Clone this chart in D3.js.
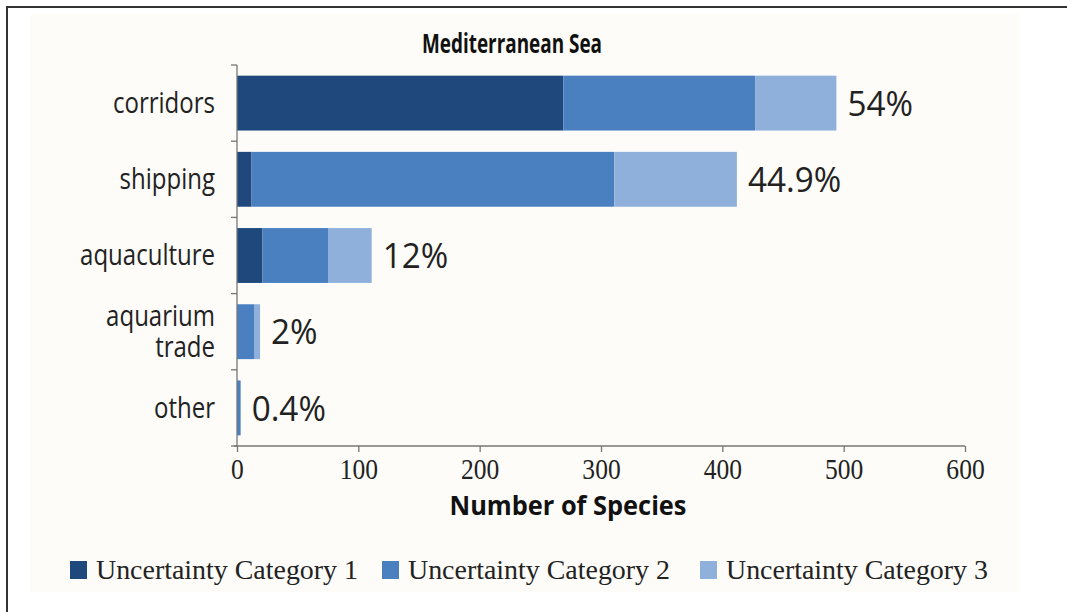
<!DOCTYPE html>
<html>
<head>
<meta charset="utf-8">
<script src="https://cdn.jsdelivr.net/npm/d3@7"></script>
<style>
  body { margin: 0; background: #fff; }
</style>
</head>
<body>
<div id="chart"></div>
<script>
// Data (number of species)
var categories = ["corridors", "shipping", "aquaculture", "aquarium trade", "other"];
var cat1 = [269, 12, 21, 0, 0];
var cat2 = [158, 299, 54, 14, 3];
var cat3 = [67, 101, 36, 5, 0];
var shareLabels = ["54%", "44.9%", "12%", "2%", "0.4%"];
var seriesNames = ["Uncertainty Category 1", "Uncertainty Category 2", "Uncertainty Category 3"];
var xTicks = [0, 100, 200, 300, 400, 500, 600];

var colors = ["#1f487c", "#4a7fc0", "#8eb0da"];

var W = 1067, H = 612;
var margin = {top: 65, right: 102, bottom: 166, left: 237};
var width = W - margin.left - margin.right,
    height = H - margin.top - margin.bottom;

// squeeze text horizontally (the original uses a condensed face)
function squeeze(sel, f) {
  sel.each(function() {
    var len = this.getComputedTextLength();
    d3.select(this).attr("textLength", len * f).attr("lengthAdjust", "spacingAndGlyphs");
  });
}

var svg = d3.select("#chart").append("svg")
    .attr("width", W)
    .attr("height", H);

// frame and paper background
svg.append("rect")
    .attr("x", 30).attr("y", 14)
    .attr("width", 990).attr("height", 578)
    .attr("fill", "#fdfcf8");
svg.append("path")
    .attr("d", "M7," + H + " V7 H" + W)
    .attr("fill", "none")
    .attr("stroke", "#333")
    .attr("stroke-width", 2);

var g = svg.append("g")
    .attr("transform", "translate(" + margin.left + "," + margin.top + ")");

var rows = categories.map(function(c, i) {
  return {cat: c, v1: cat1[i], v2: cat2[i], v3: cat3[i], label: shareLabels[i]};
});

var series = d3.stack().keys(["v1", "v2", "v3"])(rows);

var x = d3.scaleLinear().domain([0, 600]).range([0, width]);
var y = d3.scaleBand().domain(categories).range([0, height]).paddingInner(0.28).paddingOuter(0.14);

// bars
g.selectAll("g.series")
  .data(series)
  .enter().append("g")
    .attr("class", "series")
    .attr("fill", function(d, i) { return colors[i]; })
  .selectAll("rect")
  .data(function(d) { return d; })
  .enter().append("rect")
    .attr("x", function(d) { return x(d[0]); })
    .attr("y", function(d) { return y(d.data.cat); })
    .attr("width", function(d) { return x(d[1]) - x(d[0]); })
    .attr("height", y.bandwidth());

// percentage labels
g.selectAll("text.share")
  .data(rows)
  .enter().append("text")
    .attr("class", "share")
    .attr("x", function(d) { return x(d.v1 + d.v2 + d.v3) + 11; })
    .attr("y", function(d) { return y(d.cat) + y.bandwidth() / 2; })
    .attr("dy", "0.36em")
    .style("font-family", "'Open Sans', sans-serif")
    .style("font-size", "35px")
    .style("fill", "#222")
    .text(function(d) { return d.label; })
    .call(squeeze, 0.95);

// y axis: line with ticks at band boundaries
var step = y.step();
g.append("line")
    .attr("x1", 0).attr("x2", 0)
    .attr("y1", 0).attr("y2", height)
    .attr("stroke", "#777").attr("stroke-width", 1.3);
g.selectAll("line.ytick")
  .data(d3.range(categories.length + 1))
  .enter().append("line")
    .attr("class", "ytick")
    .attr("x1", -6).attr("x2", 0)
    .attr("y1", function(i) { return i * step; })
    .attr("y2", function(i) { return i * step; })
    .attr("stroke", "#777").attr("stroke-width", 1.3);

// category labels
var catText = g.selectAll("text.cat")
  .data(categories)
  .enter().append("text")
    .attr("class", "cat")
    .attr("text-anchor", "end")
    .attr("y", function(d) { return y(d) + y.bandwidth() / 2; })
    .style("font-family", "'Open Sans', sans-serif")
    .style("font-size", "30px")
    .style("fill", "#222");
catText.each(function(d) {
  var words = d.split(" ");
  var t = d3.select(this);
  words.forEach(function(w, k) {
    t.append("tspan")
      .attr("x", -22)
      .attr("dy", k === 0 ? (0.32 - (words.length - 1) * 0.52) + "em" : "1.05em")
      .text(w);
  });
});
catText.selectAll("tspan").call(squeeze, 0.8);

// x axis
var xAxis = d3.axisBottom(x).tickValues(xTicks).tickSize(6).tickSizeOuter(0).tickPadding(6);
var gx = g.append("g")
    .attr("transform", "translate(0," + height + ")")
    .call(xAxis);
gx.select(".domain").attr("stroke", "#777").attr("stroke-width", 1.3)
    .attr("d", "M-3,0H" + width);
gx.selectAll(".tick line").attr("stroke", "#777").attr("stroke-width", 1.3);
gx.selectAll(".tick text")
    .style("font-family", "'Liberation Serif', serif")
    .style("font-size", "29px")
    .style("fill", "#222")
    .call(squeeze, 0.88);

// axis title
g.append("text")
    .attr("x", 331)
    .attr("y", height + 69)
    .attr("text-anchor", "middle")
    .attr("textLength", 237)
    .attr("lengthAdjust", "spacingAndGlyphs")
    .style("font-family", "'Open Sans', sans-serif")
    .style("font-weight", "bold")
    .style("font-size", "27px")
    .style("fill", "#111")
    .text("Number of Species");

// title
svg.append("text")
    .attr("x", 512)
    .attr("y", 53)
    .attr("text-anchor", "middle")
    .attr("textLength", 180)
    .attr("lengthAdjust", "spacingAndGlyphs")
    .style("font-family", "'Open Sans', sans-serif")
    .style("font-weight", "bold")
    .style("font-size", "26px")
    .style("fill", "#111")
    .text("Mediterranean Sea");

// legend
var legendX = [70, 382, 700];
var legend = svg.selectAll("g.legend")
  .data(seriesNames)
  .enter().append("g")
    .attr("class", "legend")
    .attr("transform", function(d, i) { return "translate(" + legendX[i] + ",561)"; });
legend.append("rect")
    .attr("width", 17).attr("height", 18)
    .attr("fill", function(d, i) { return colors[i]; });
legend.append("text")
    .attr("x", 26)
    .attr("y", 18)
    .attr("textLength", 262)
    .attr("lengthAdjust", "spacingAndGlyphs")
    .style("font-family", "'Liberation Serif', serif")
    .style("font-size", "27px")
    .style("fill", "#222")
    .text(function(d) { return d; });
</script>
</body>
</html>
